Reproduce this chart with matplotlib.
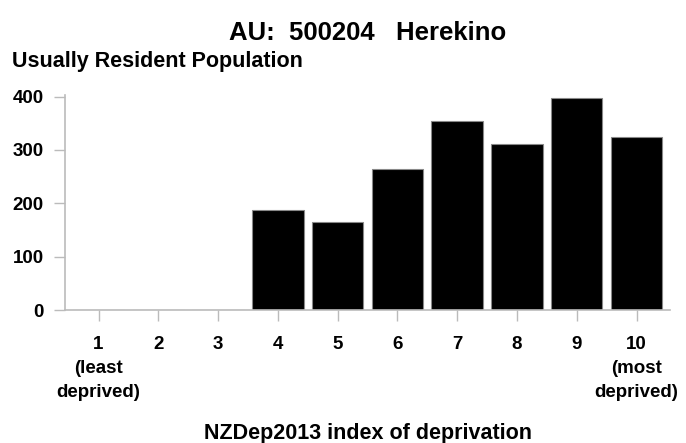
import matplotlib
matplotlib.use("Agg")
import matplotlib.pyplot as plt

deciles = [1, 2, 3, 4, 5, 6, 7, 8, 9, 10]
population = [0, 0, 0, 188, 165, 264, 354, 311, 398, 324]
tick_labels = ["1\n(least\ndeprived)", "2", "3", "4", "5", "6", "7", "8", "9",
               "10\n(most\ndeprived)"]
title = "AU:  500204   Herekino"
ylabel = "Usually Resident Population"
xlabel = "NZDep2013 index of deprivation"

plt.rcParams['font.family'] = ['Liberation Sans', 'DejaVu Sans']
plt.rcParams['font.weight'] = 'bold'

fig = plt.figure(figsize=(6.86, 4.43), dpi=100)
ax = fig.add_axes([0.0948, 0.3002, 0.8819, 0.4854])

ax.bar(deciles, population, width=0.86, color="black", edgecolor="#888888", linewidth=0.8)
ax.set_xlim(0.44, 10.56)
ax.set_ylim(0, 403)
ax.set_yticks([0, 100, 200, 300, 400])
ax.set_xticks(deciles)
ax.set_xticklabels(tick_labels, fontsize=13.5, fontweight='bold', linespacing=1.55)
ax.tick_params(axis='y', labelsize=13.5, length=8, width=1, color="#bbbbbb", pad=7.5)
ax.tick_params(axis='x', length=8, width=1, color="#bbbbbb", pad=10.5)
for lbl in ax.get_yticklabels():
    lbl.set_fontweight('bold')

for s in ['top', 'right']:
    ax.spines[s].set_visible(False)
for s in ['left', 'bottom']:
    ax.spines[s].set_color("#bbbbbb")
    ax.spines[s].set_linewidth(1.2)

fig.text(0.5365, 0.925, title, ha='center', va='center', fontsize=18.5, fontweight='bold')
fig.text(0.018, 0.862, ylabel, ha='left', va='center', fontsize=15.5, fontweight='bold')
fig.text(0.5365, 0.022, xlabel, ha='center', va='center', fontsize=15.5, fontweight='bold')

fig.savefig("out.png", dpi=100)
